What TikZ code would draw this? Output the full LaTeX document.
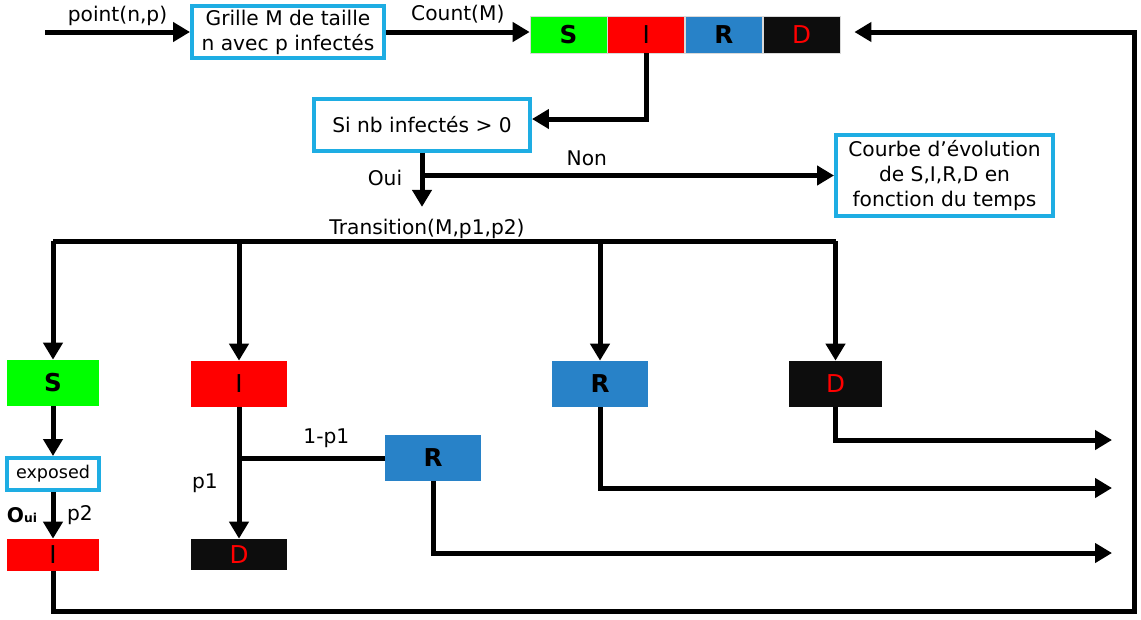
\documentclass[tikz,border=0pt]{standalone}
\usepackage{fontspec}
\setmainfont{DejaVu Sans}
\usetikzlibrary{positioning,arrows.meta}
\definecolor{bleuCadre}{RGB}{30,173,227}
\definecolor{vertS}{RGB}{0,255,0}
\definecolor{rougeI}{RGB}{255,0,0}
\definecolor{bleuR}{RGB}{40,130,200}
\definecolor{noirD}{RGB}{13,13,13}
\tikzset{
	cadre/.style={draw=bleuCadre,line width=0.08cm,fill=white,align=center,inner sep=1pt},
	fleche/.style={line width=0.1cm,line join=miter,-{Triangle[length=0.34cm,width=0.38cm]}},
	trait/.style={line width=0.1cm,line join=miter},
	cellule/.style={minimum width=1.54cm,minimum height=0.74cm,inner sep=0pt,draw=black!15,line width=0.4pt,font=\fontsize{14}{16}\selectfont},
	etat/.style={minimum width=1.92cm,minimum height=0.92cm,inner sep=0pt,font=\fontsize{14}{16}\selectfont},
	gras/.style={font=\fontsize{14}{16}\selectfont\bfseries}
}

\begin{document}
\begin{tikzpicture}[x=0.02cm,y=-0.02cm,font=\fontsize{11.5}{14.2}\selectfont]
	\useasboundingbox (0,0) rectangle (1141,619);

	%Cadres
	\node[cadre,minimum width=3.84cm,minimum height=1.06cm] (grille) at (288,32) {Grille M de taille\\n avec p infectés};
	\node[cadre,minimum width=4.32cm,minimum height=1.04cm] (si) at (422,125) {Si nb infectés > 0};
	\node[cadre,minimum width=4.34cm,minimum height=1.62cm] (courbe) at (944.5,175.5) {Courbe d’évolution\\de S,I,R,D en\\fonction du temps};
	\node[cadre,minimum width=1.84cm,minimum height=0.64cm,font=\fontsize{10}{12}\selectfont] (exposed) at (53,474) {exposed};

	%Barre S,I,R,D
	\node[cellule,fill=vertS,gras] (barS) at (568.5,34.5) {S};
	\node[cellule,fill=rougeI,right=0pt of barS] (barI) {I};
	\node[cellule,fill=bleuR,gras,right=0pt of barI] (barR) {R};
	\node[cellule,fill=noirD,text=rougeI,right=0pt of barR] (barD) {D};

	%Etats
	\node[etat,fill=vertS,minimum width=1.84cm,gras] (S) at (53,383) {S};
	\node[etat,fill=rougeI] (I) at (239,384) {I};
	\node[etat,fill=bleuR,gras] (R) at (600,384) {R};
	\node[etat,fill=noirD,text=rougeI,minimum width=1.86cm] (D) at (835.5,384) {D};
	\node[etat,fill=bleuR,gras] (Rp) at (433,458) {R};
	\node[etat,fill=rougeI,minimum width=1.84cm,minimum height=0.64cm] (Ibas) at (53,555) {I};
	\node[etat,fill=noirD,text=rougeI,minimum height=0.62cm] (Dbas) at (239,554.5) {D};

	\node[inner sep=0pt] (trans) at (427,229) {Transition(M,p1,p2)};

	%Points de passage
	\coordinate (entree) at (45,32);
	\coordinate (busG) at (53,241);
	\coordinate (busD) at (835.5,241);
	\coordinate (coinBas) at (1134,611);
	\coordinate (finD) at (1112,440);
	\coordinate (finR) at (1112,488);
	\coordinate (finRp) at (1112,553);

	%Liaisons du haut
	\draw[fleche] (entree) -- (grille) node[midway,above=-1pt] {point(n,p)};
	\draw[fleche] (grille) -- (grille -| barS.west) node[midway,above=0pt] {Count(M)};
	\draw[fleche] (barI.south) |- ([yshift=0.12cm]si.east);
	\draw[fleche] (si.south) -- ([yshift=0.24cm]si.south |- trans.north);
	\coordinate (branche) at (si.south |- courbe.west);
	\draw[fleche] (branche) -- (courbe.west) node[pos=0.4,above=1pt] {Non};
	\node (oui) at (385,178) {Oui};

	%Transition
	\draw[trait] (busG) -- (busD);
	\draw[fleche] (busG) -- (S.north);
	\draw[fleche] (I.north |- busG) -- (I.north);
	\draw[fleche] (R.north |- busG) -- (R.north);
	\draw[fleche] (busD) -- (D.north);

	%Branche S
	\draw[fleche] (S.south) -- (exposed.north);
	\draw[fleche] (exposed.south) -- (Ibas.north);
	\node (ouiE) at (22,515) {\textbf{O}\scriptsize\bfseries ui};
	\node (p2) at (80,515) {p2};

	%Branche I
	\draw[fleche] (I.south) -- (Dbas.north);
	\draw[trait] (I.south |- Rp.west) -- (Rp.west) node[pos=0.6,above=1pt] {1-p1};
	\node (p1) at (205,483) {p1};

	%Sorties
	\draw[fleche] (D.south) |- (finD);
	\draw[fleche] (R.south) |- (finR);
	\draw[fleche] (Rp.south) |- (finRp);

	%Retour vers la barre
	\draw[fleche,shorten >=0.28cm] (Ibas.south) |- (coinBas) |- ([yshift=0.05cm]barD.east);
\end{tikzpicture}
\end{document}
